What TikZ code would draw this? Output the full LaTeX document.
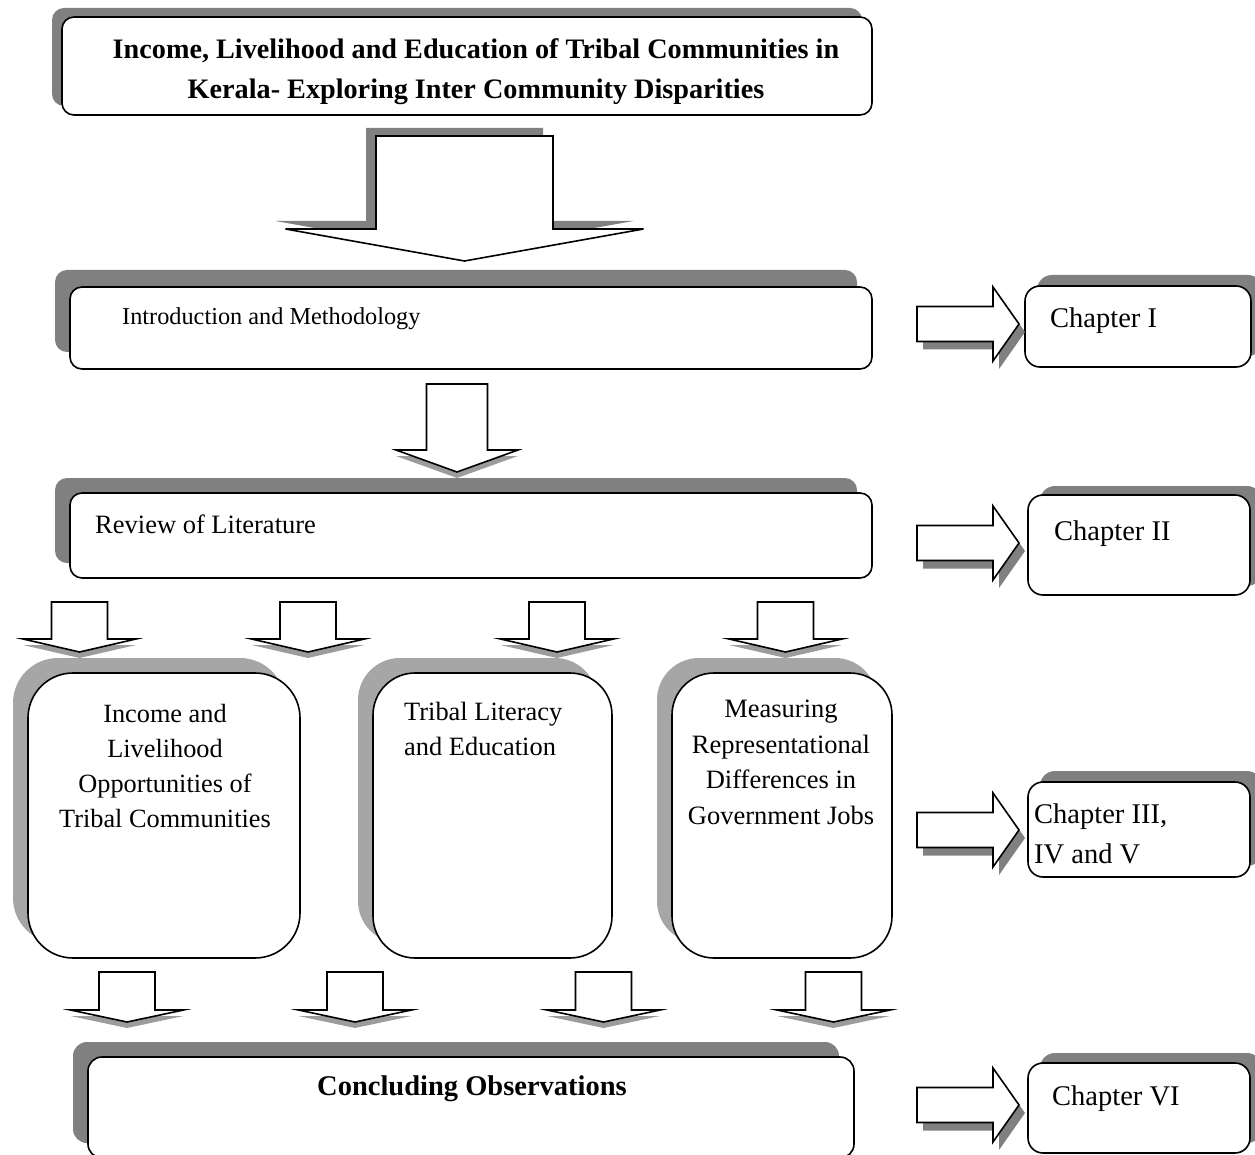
\documentclass[tikz,border=0pt]{standalone}
\usepackage{fontspec}
\setmainfont{Liberation Serif}
\usetikzlibrary{shadows}
\definecolor{shadowgray}{HTML}{808080}
\definecolor{lightshadow}{HTML}{A6A6A6}
\definecolor{arrowshade}{HTML}{9C9C9C}
\tikzset{
  boxbase/.style={draw=black, line width=1.6pt, fill=white, rectangle, inner sep=0pt},
  darkshadow/.style 2 args={drop shadow={shadow xshift=#1pt, shadow yshift=#2pt, fill=shadowgray, opacity=1}},
  paleshadow/.style={drop shadow={shadow xshift=-15pt, shadow yshift=15pt, fill=lightshadow, opacity=1}},
  blockarrow/.style={draw=black, line width=1.6pt, fill=white, line join=miter},
  arrowshadow/.style={fill=arrowshade},
  rightshadow/.style={fill=shadowgray},
  txt/.style={inner sep=0pt, text=black},
}
\newcommand{\myDownArrow}[8]{%
  \fill[arrowshadow, shift={(#7,#8)}] (#1-#3,#2) -- (#1+#3,#2) -- (#1+#3,#2+#4) -- (#1+#5,#2+#4) -- (#1,#2+#6) -- (#1-#5,#2+#4) -- (#1-#3,#2+#4) -- cycle;
  \draw[blockarrow] (#1-#3,#2) -- (#1+#3,#2) -- (#1+#3,#2+#4) -- (#1+#5,#2+#4) -- (#1,#2+#6) -- (#1-#5,#2+#4) -- (#1-#3,#2+#4) -- cycle;
}
\newcommand{\myRightArrow}[1]{%
  \fill[rightshadow, shift={(6,8)}] (917,#1-17.5) -- (993,#1-17.5) -- (993,#1-37) -- (1019,#1) -- (993,#1+37) -- (993,#1+17.5) -- (917,#1+17.5) -- cycle;
  \draw[blockarrow] (917,#1-17.5) -- (993,#1-17.5) -- (993,#1-37) -- (1019,#1) -- (993,#1+37) -- (993,#1+17.5) -- (917,#1+17.5) -- cycle;
}
\begin{document}
\begin{tikzpicture}[x=1pt, y=-1pt]
\clip (0,0) rectangle (1255,1155);
\fill[white] (0,0) rectangle (1255,1155);

% main boxes
\node[boxbase, rounded corners=12pt, darkshadow={-10}{9}, minimum width=810pt, minimum height=98pt] (title) at (467,66) {};
\node[boxbase, rounded corners=12pt, darkshadow={-15}{17}, minimum width=802pt, minimum height=82pt] (intro) at (471,328) {};
\node[boxbase, rounded corners=12pt, darkshadow={-15}{15}, minimum width=802pt, minimum height=85pt] (review) at (471,535.5) {};
\node[boxbase, rounded corners=45pt, paleshadow, minimum width=272pt, minimum height=285pt] (income) at (164,815.5) {};
\node[boxbase, rounded corners=42pt, paleshadow, minimum width=239pt, minimum height=285pt] (literacy) at (492.5,815.5) {};
\node[boxbase, rounded corners=42pt, paleshadow, minimum width=220pt, minimum height=285pt] (jobs) at (782,815.5) {};
\node[boxbase, rounded corners=14pt, darkshadow={-15}{15}, minimum width=766pt, minimum height=101pt] (concl) at (471,1107.5) {};

% chapter boxes
\node[boxbase, rounded corners=15pt, darkshadow={12}{11}, minimum width=226pt, minimum height=81pt] (ch1) at (1138,326.5) {};
\node[boxbase, rounded corners=15pt, darkshadow={12}{9}, minimum width=222pt, minimum height=100pt] (ch2) at (1139,545) {};
\node[boxbase, rounded corners=15pt, darkshadow={12}{11}, minimum width=222pt, minimum height=95pt] (ch3) at (1139,829.5) {};
\node[boxbase, rounded corners=15pt, darkshadow={12}{10}, minimum width=222pt, minimum height=90pt] (ch6) at (1139,1108) {};

% texts
\node[txt, anchor=north, align=center, font=\fontsize{28.2}{40}\selectfont\bfseries] (titletext) at (476,38) {Income, Livelihood and Education of Tribal Communities in\\Kerala- Exploring Inter Community Disparities};
\node[txt, anchor=base west, font=\fontsize{24.3}{29}\selectfont] (introtext) at (122,325) {Introduction and Methodology};
\node[txt, anchor=base west, font=\fontsize{26.5}{32}\selectfont] (reviewtext) at (95,533) {Review of Literature};
\node[txt, anchor=north, align=center, font=\fontsize{26.3}{35}\selectfont] (incometext) at (165,704) {Income and\\Livelihood\\Opportunities of\\Tribal Communities};
\node[txt, anchor=north west, align=left, font=\fontsize{26.4}{35}\selectfont] (literacytext) at (404,702) {Tribal Literacy\\and Education};
\node[txt, anchor=north, align=center, font=\fontsize{26.5}{35.5}\selectfont] (jobstext) at (781,700) {Measuring\\Representational\\Differences in\\Government Jobs};
\node[txt, anchor=base, font=\fontsize{28.5}{34}\selectfont\bfseries] (concltext) at (472,1095) {Concluding Observations};
\node[txt, anchor=base west, font=\fontsize{28.5}{34}\selectfont] (ch1text) at (1050,328) {Chapter I};
\node[txt, anchor=base west, font=\fontsize{28.5}{34}\selectfont] (ch2text) at (1054,540) {Chapter II};
\node[txt, anchor=north west, align=left, font=\fontsize{28.5}{40}\selectfont] (ch3text) at (1034,803.5) {Chapter III,\\IV and V};
\node[txt, anchor=base west, font=\fontsize{28.5}{34}\selectfont] (ch6text) at (1052,1105) {Chapter VI};

% big arrow from title to intro
\begin{scope}[arrowshadow/.style={fill=shadowgray}]
\myDownArrow{464.5}{136}{88.5}{93}{179}{125}{-10}{-8}
\end{scope}
% arrow intro -> review
\myDownArrow{457}{384}{30.5}{66}{61}{88}{0}{6}
% row of arrows review -> boxes
\myDownArrow{79.5}{602}{28}{37}{56.5}{50}{0}{6}
\myDownArrow{308}{602}{28}{37}{56.5}{50}{0}{6}
\myDownArrow{557}{602}{28}{37}{56.5}{50}{0}{6}
\myDownArrow{785.5}{602}{28}{37}{56.5}{50}{0}{6}
% row of arrows boxes -> concluding
\myDownArrow{127}{972}{28}{38}{56.5}{50}{0}{6}
\myDownArrow{355}{972}{28}{38}{56.5}{50}{0}{6}
\myDownArrow{603.5}{972}{28}{38}{56.5}{50}{0}{6}
\myDownArrow{833.5}{972}{28}{38}{56.5}{50}{0}{6}

% chapter arrows
\myRightArrow{324}
\myRightArrow{543}
\myRightArrow{830}
\myRightArrow{1105}
\end{tikzpicture}
\end{document}
